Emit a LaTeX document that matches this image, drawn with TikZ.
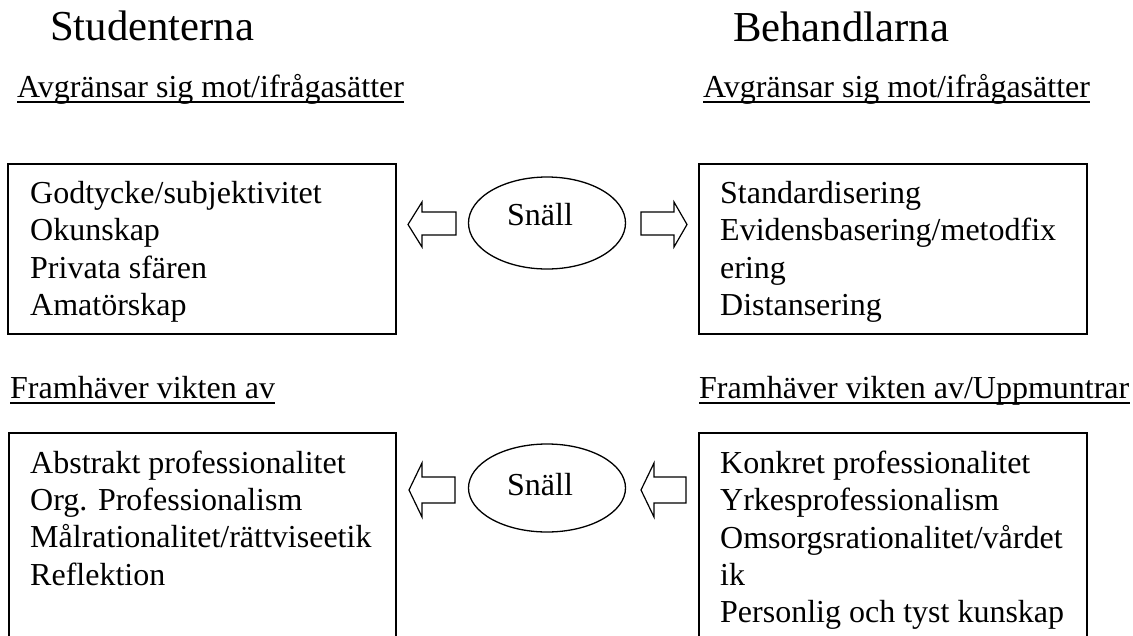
\documentclass[tikz,border=0pt]{standalone}
\usepackage{fontspec}
\setmainfont{Liberation Serif}
\usetikzlibrary{shapes.geometric}
\tikzset{
  title/.style={anchor=base west, inner sep=0pt, font=\fontsize{42.7}{49}\selectfont},
  txt/.style={anchor=base west, inner sep=0pt, font=\fontsize{32}{37}\selectfont},
  boxline/.style={draw=black, line width=1.3pt},
  oval/.style={ellipse, draw=black, line width=1.3pt, inner sep=0pt, minimum width=157pt, minimum height=92pt},
  blockarrow/.style={draw=black, line width=1.2pt, fill=white, line join=miter},
  uline/.style={draw=black, line width=1.8pt}
}
\begin{document}
\begin{tikzpicture}[x=1pt,y=-1pt]
\useasboundingbox (0,0) rectangle (1133,635);
\fill[white] (0,0) rectangle (1133,635);

% titles
\node[title] (t1) at (50,40) {Studenterna};
\node[title] (t2) at (733,41) {Behandlarna};

% underlined labels
\node[txt] (l1) at (17,97) {Avgränsar sig mot/ifrågasätter};
\draw[uline] ([yshift=-5pt]l1.base west) -- ([yshift=-5pt]l1.base east);
\node[txt] (l2) at (703,97) {Avgränsar sig mot/ifrågasätter};
\draw[uline] ([yshift=-5pt]l2.base west) -- ([yshift=-5pt]l2.base east);
\node[txt] (l3) at (10,398) {Framhäver vikten av};
\draw[uline] ([yshift=-5pt]l3.base west) -- ([yshift=-5pt]l3.base east);
\node[txt] (l4) at (699,398) {Framhäver vikten av/Uppmuntrar};
\draw[uline] ([yshift=-5pt]l4.base west) -- ([yshift=-5pt]l4.base east);

% top boxes
\draw[boxline] (8,164) rectangle (396,334);
\draw[boxline] (699,164) rectangle (1087,334);
\node[txt] (a1) at (30,203) {Godtycke/subjektivitet};
\node[txt] (a2) at (30,240) {Okunskap};
\node[txt] (a3) at (30,278) {Privata sfären};
\node[txt] (a4) at (30,315) {Amatörskap};
\node[txt] (b1) at (720,203) {Standardisering};
\node[txt] (b2) at (720,240) {Evidensbasering/metodfix};
\node[txt] (b3) at (720,278) {ering};
\node[txt] (b4) at (720,315) {Distansering};

% bottom boxes (cut off at the bottom edge)
\draw[boxline] (9,640) -- (9,433) -- (396,433) -- (396,640);
\draw[boxline] (699,640) -- (699,433) -- (1087,433) -- (1087,640);
\node[txt] (c1) at (30,473) {Abstrakt professionalitet};
\node[txt] (c2) at (30,510) {Org. Professionalism};
\node[txt] (c3) at (30,547) {Målrationalitet/rättviseetik};
\node[txt] (c4) at (30,585) {Reflektion};
\node[txt] (d1) at (720,473) {Konkret professionalitet};
\node[txt] (d2) at (720,510) {Yrkesprofessionalism};
\node[txt] (d3) at (720,548) {Omsorgsrationalitet/vårdet};
\node[txt] (d4) at (720,585) {ik};
\node[txt] (d5) at (720,622) {Personlig och tyst kunskap};

% ellipses
\node[oval] (e1) at (547,223) {};
\node[txt] (s1) at (507,225) {Snäll};
\node[oval, minimum height=88pt] (e2) at (547,488) {};
\node[txt] (s2) at (507,495) {Snäll};

% block arrows
\draw[blockarrow] (408,224.5) -- (422,202) -- (422,212) -- (456,212) -- (456,235) -- (422,235) -- (422,247) -- cycle;
\draw[blockarrow] (687,224.5) -- (674,202) -- (674,212) -- (641,212) -- (641,235) -- (674,235) -- (674,247) -- cycle;
\draw[blockarrow] (409,490) -- (422,463) -- (422,477) -- (455,477) -- (455,503) -- (422,503) -- (422,517) -- cycle;
\draw[blockarrow] (641,490) -- (654,463) -- (654,477) -- (686,477) -- (686,503) -- (654,503) -- (654,517) -- cycle;
\end{tikzpicture}
\end{document}
